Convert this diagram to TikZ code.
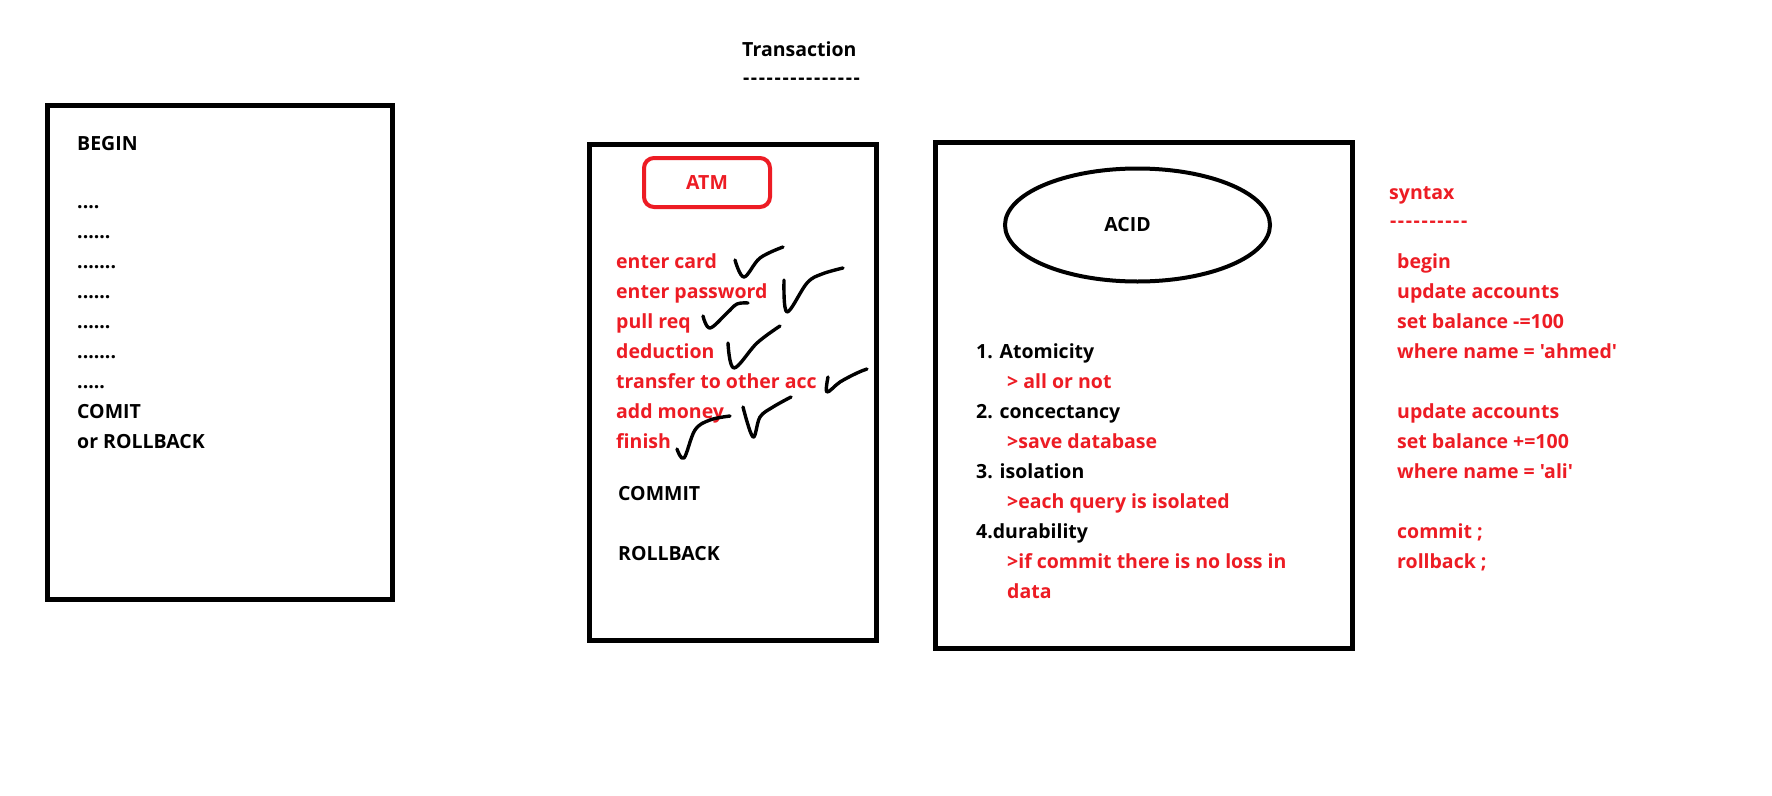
\documentclass[tikz,border=0pt]{standalone}
\usepackage{fontspec}
\setmainfont{Open Sans}[Ligatures=TeXOff]
\usetikzlibrary{shapes.geometric,positioning}
\definecolor{paintred}{RGB}{237,28,36}
\newcommand\dashrow[1]{\foreach \k in {1,...,#1}{\hbox to 7.9pt{\hss-\hss}}}

\begin{document}
\begin{tikzpicture}[x=1pt,y=-1pt,node distance=30pt,
        box node/.style={draw,line width=5pt,anchor=north west,inner sep=0pt,outer sep=0pt},
        text node/.style={anchor=base west,inner sep=0pt,font=\bfseries\fontsize{19.5}{30}\selectfont},
        red node/.style={text node,text=paintred},
        next line/.style={below=of #1,anchor=base west},
        tick line/.style={line width=3.4pt,line cap=round,line join=round}]

    \fill[white] (0,0) rectangle (1772,795);
    \useasboundingbox (0,0) rectangle (1772,795);

    % title
    \node[text node] (title) at (742,56) {Transaction};
    \node[text node] (titledash) [node distance=28pt,next line=title.base west] {\dashrow{15}};

    % left box
    \node[box node,minimum width=344.5pt,minimum height=493.5pt] (stepsbox) at (47.5,105.5) {};
    \node[text node] (begin) at (77,150) {BEGIN};
    \node[text node] (dots1) [node distance=58pt,next line=begin.base west] {....};
    \node[text node] (dots2) [next line=dots1.base west] {......};
    \node[text node] (dots3) [next line=dots2.base west] {.......};
    \node[text node] (dots4) [next line=dots3.base west] {......};
    \node[text node] (dots5) [next line=dots4.base west] {......};
    \node[text node] (dots6) [next line=dots5.base west] {.......};
    \node[text node] (dots7) [next line=dots6.base west] {.....};
    \node[text node] (comit) [next line=dots7.base west] {COMIT};
    \node[text node] (orroll) [next line=comit.base west] {or ROLLBACK};

    % atm box
    \node[box node,minimum width=286.5pt,minimum height=495.5pt] (atmbox) at (589.5,144.5) {};
    \node[draw=paintred,line width=4pt,rounded corners=10pt,minimum width=126pt,minimum height=49pt,
        text=paintred,font=\bfseries\fontsize{19.5}{30}\selectfont] (atm) at (707,182.5) {ATM};
    \node[red node] (card) at (616,268) {enter card};
    \node[red node] (password) [next line=card.base west] {enter password};
    \node[red node] (pullreq) [next line=password.base west] {pull req};
    \node[red node] (deduction) [next line=pullreq.base west] {deduction};
    \node[red node] (transfer) [next line=deduction.base west] {transfer to other acc};
    \node[red node] (addmoney) [next line=transfer.base west] {add money};
    \node[red node] (finish) [next line=addmoney.base west] {finish};
    \node[text node] (commit) at (618,500) {COMMIT};
    \node[text node] (rollback) [node distance=60pt,next line=commit.base west] {ROLLBACK};

    % ticks
    \draw[tick line] plot[smooth,tension=.6] coordinates {(735,260) (744,277) (760,258) (783,247)};
    \draw[tick line] plot[smooth,tension=.6] coordinates {(784,280) (787,312) (807,283) (822,274) (843,268)};
    \draw[tick line] plot[smooth,tension=.6] coordinates {(703,316) (710,328) (727,313) (737,304) (748,303)};
    \draw[tick line] plot[smooth,tension=.6] coordinates {(728,343) (734,368) (757,343) (780,326)};
    \draw[tick line] plot[smooth,tension=.6] coordinates {(828,377) (827,392) (840,382) (857,373) (867,369)};
    \draw[tick line] plot[smooth,tension=.6] coordinates {(743,407) (753,437) (760,417) (773,407) (791,397)};
    \draw[tick line] plot[smooth,tension=.6] coordinates {(677,449) (684,458) (695,430) (710,420) (730,416)};

    % acid box
    \node[box node,minimum width=417pt,minimum height=505.5pt] (acidbox) at (935.5,142.5) {};
    \node[ellipse,draw,line width=4pt,minimum width=265pt,minimum height=113pt,inner sep=0pt,
        label={[xshift=-10pt,font=\bfseries\fontsize{19.5}{30}\selectfont]center:ACID}] (acid) at (1137.5,225) {};
    \node[text node] (atom) at (976,358) {1. Atomicity};
    \node[red node] (atomdesc) [next line=atom.base west,xshift=31pt] {> all or not};
    \node[text node] (conc) [next line=atomdesc.base west,xshift=-31pt] {2. concectancy};
    \node[red node] (concdesc) [next line=conc.base west,xshift=31pt] {>save database};
    \node[text node] (iso) [next line=concdesc.base west,xshift=-31pt] {3. isolation};
    \node[red node] (isodesc) [next line=iso.base west,xshift=31pt] {>each query is isolated};
    \node[text node] (dura) [next line=isodesc.base west,xshift=-31pt] {4.durability};
    \node[red node] (duradesc) [next line=dura.base west,xshift=31pt] {>if commit there is no loss in};
    \node[red node] (duradata) [next line=duradesc.base west] {data};

    % syntax
    \node[red node] (syntax) at (1389,199) {syntax};
    \node[red node] (syntaxdash) [node distance=28pt,next line=syntax.base west] {\dashrow{10}};
    \node[red node] (sqlbegin) at (1397,268) {begin};
    \node[red node] (update1) [next line=sqlbegin.base west] {update accounts};
    \node[red node] (set1) [next line=update1.base west] {set balance -=100};
    \node[red node] (where1) [next line=set1.base west] {where name = 'ahmed'};
    \node[red node] (update2) [node distance=60pt,next line=where1.base west] {update accounts};
    \node[red node] (set2) [next line=update2.base west] {set balance +=100};
    \node[red node] (where2) [next line=set2.base west] {where name = 'ali'};
    \node[red node] (sqlcommit) [node distance=60pt,next line=where2.base west] {commit ;};
    \node[red node] (sqlroll) [next line=sqlcommit.base west] {rollback ;};
\end{tikzpicture}
\end{document}
